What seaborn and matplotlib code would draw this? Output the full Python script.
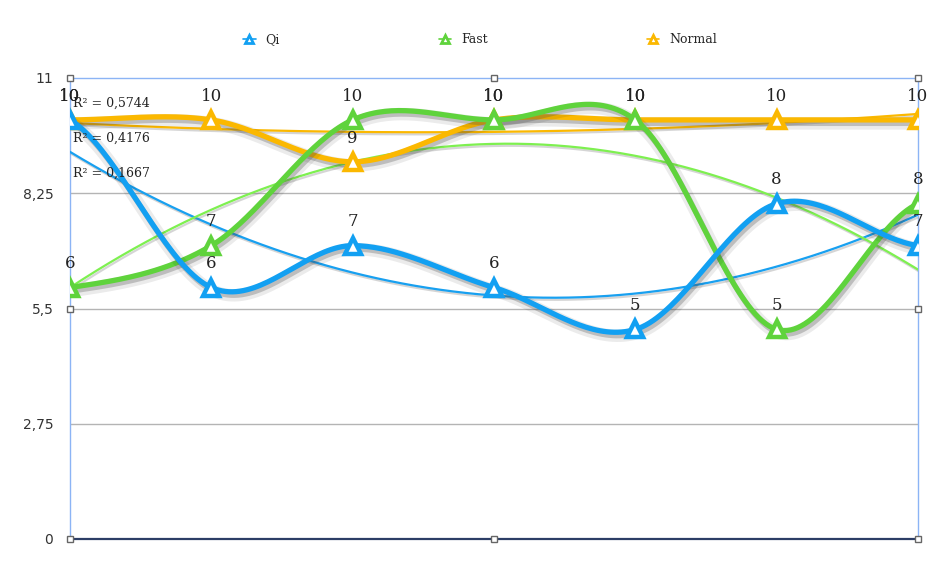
import numpy as np
import pandas as pd
import matplotlib
matplotlib.use("Agg")
import matplotlib.pyplot as plt
import matplotlib.patheffects as pe
from matplotlib.lines import Line2D
import seaborn as sns

# chart data
points = [0, 1, 2, 3, 4, 5, 6]
series_names = ["Qi", "Fast", "Normal"]
qi = [10, 6, 7, 6, 5, 8, 7]
fast = [6, 7, 10, 10, 10, 5, 8]
normal = [10, 10, 9, 10, 10, 10, 10]
y_ticks = [0, 2.75, 5.5, 8.25, 11]
y_tick_labels = ["0", "2,75", "5,5", "8,25", "11"]

colors = {"Qi": "#12a0f2", "Fast": "#5fd33c", "Normal": "#fbb800"}
trend_colors = {"Qi": "#18a0f0", "Fast": "#7ef050", "Normal": "#fbb800"}
label_font = "DejaVu Serif"


def smooth(xv, yv, n=40):
    # catmull-rom style smoothing like the office "smoothed line" option
    xv = np.asarray(xv, float)
    yv = np.asarray(yv, float)
    px = np.concatenate([[2 * xv[0] - xv[1]], xv, [2 * xv[-1] - xv[-2]]])
    py = np.concatenate([[yv[0]], yv, [yv[-1]]])
    out_x, out_y = [], []
    for i in range(1, len(px) - 2):
        t = np.linspace(0, 1, n, endpoint=False)
        for arr, out in ((px, out_x), (py, out_y)):
            p0, p1, p2, p3 = arr[i - 1], arr[i], arr[i + 1], arr[i + 2]
            m1 = (p2 - p0) / 2
            m2 = (p3 - p1) / 2
            h00 = 2 * t**3 - 3 * t**2 + 1
            h10 = t**3 - 2 * t**2 + t
            h01 = -2 * t**3 + 3 * t**2
            h11 = t**3 - t**2
            out.extend(h00 * p1 + h10 * m1 + h01 * p2 + h11 * m2)
    out_x.append(xv[-1])
    out_y.append(yv[-1])
    return np.array(out_x), np.array(out_y)


shadow = [pe.SimpleLineShadow(offset=(1.5, -2.5), shadow_color="#000000", alpha=0.08,
                              linewidth=9),
          pe.SimpleLineShadow(offset=(1.5, -2.5), shadow_color="#555555", alpha=0.3),
          pe.Normal()]
thin_shadow = [pe.SimpleLineShadow(offset=(1, -1.5), shadow_color="#777777", alpha=0.3),
               pe.Normal()]

sns.set_theme(style="white")
plt.rcParams["font.family"] = ["DejaVu Sans"]

fig = plt.figure(figsize=(9.45, 5.68), dpi=100)
ax = fig.add_axes([70 / 945, 1 - 539 / 568, (918 - 70) / 945, (539 - 78) / 568])

data = {"Qi": qi, "Fast": fast, "Normal": normal}
r2_texts = []
for name in series_names:
    vals = np.array(data[name], float)
    coef = np.polyfit(points, vals, 2)
    fit = np.polyval(coef, points)
    r2 = 1 - np.sum((vals - fit) ** 2) / np.sum((vals - vals.mean()) ** 2)
    r2_texts.append("R² = " + f"{r2:.4f}".replace(".", ","))
    tx = np.linspace(points[0], points[-1], 200)
    ax.plot(tx, np.polyval(coef, tx), color=trend_colors[name], lw=1.6,
            zorder=3, path_effects=thin_shadow)

for z, name in zip([4, 5, 6], ["Normal", "Fast", "Qi"]):
    sx, sy = smooth(points, data[name])
    df = pd.DataFrame({"x": sx, "y": sy})
    sns.lineplot(data=df, x="x", y="y", ax=ax, color=colors[name], lw=3.8,
                 sort=False, zorder=z, path_effects=shadow)
    ax.plot(points, data[name], ls="none", marker="^", ms=12, mew=3.2,
            mfc="white", mec=colors[name], zorder=z + 0.5)
    for xp, yp in zip(points, data[name]):
        ax.annotate(str(yp), (xp, yp), xytext=(0, 11), textcoords="offset points",
                    ha="center", va="bottom", fontsize=12, family=label_font,
                    color="#222222", zorder=10)

for i, t in enumerate(r2_texts):
    ax.text(0.003, 0.945 - i * 0.076, t, transform=ax.transAxes, fontsize=9,
            family=label_font, color="#222222", va="center", zorder=11)

ax.set_xlim(0, 6)
ax.set_ylim(0, 11)
ax.set_xticks([])
ax.set_yticks(y_ticks)
ax.set_yticklabels(y_tick_labels, fontsize=10, color="#333333")
ax.tick_params(axis="y", length=4, width=1, color="#333333", pad=12, direction="in")
ax.set_xlabel("")
ax.set_ylabel("")
for yv in y_ticks[1:-1]:
    ax.axhline(yv, color="#b4b4b4", lw=1, zorder=1)
for side in ["left", "top", "right"]:
    ax.spines[side].set_color("#8cb4f5")
    ax.spines[side].set_linewidth(1)
ax.spines["bottom"].set_color("#2c3e66")
ax.spines["bottom"].set_linewidth(1.6)

# selection handles around the plot area
hx = [0, 0.5, 1, 0, 1, 0, 0.5, 1]
hy = [1, 1, 1, 0.5, 0.5, 0, 0, 0]
ax.plot(hx, hy, ls="none", marker="s", ms=5, mfc="white", mec="#666666",
        mew=1, transform=ax.transAxes, clip_on=False, zorder=12)

handles = [Line2D([0], [0], color=colors[n], lw=1.2, marker="^", ms=6,
                  mfc="white", mec=colors[n], mew=2) for n in series_names]
leg = fig.legend(handles, series_names, loc="center", bbox_to_anchor=(0.508, 0.93),
                 ncol=3, frameon=False, handlelength=1.0, columnspacing=12.7,
                 prop={"family": label_font, "size": 9})

fig.savefig("out.png", dpi=100)
